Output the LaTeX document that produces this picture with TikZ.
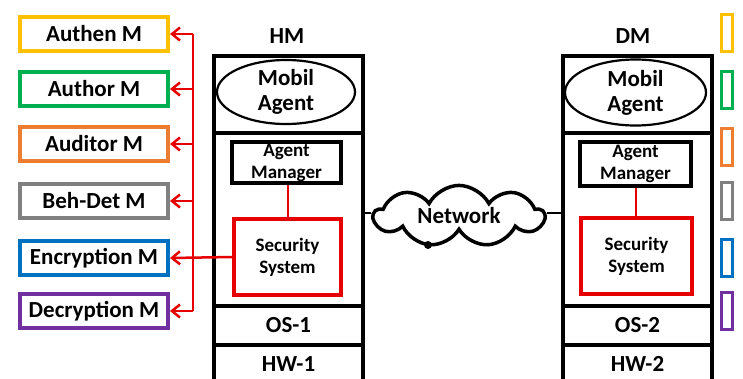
\documentclass[tikz,border=0pt]{standalone}
\usepackage{fontspec}
\setmainfont{Carlito}
\usetikzlibrary{shapes.geometric,shapes.symbols,arrows.meta}
\definecolor{cyel}{RGB}{255,192,0}
\definecolor{cgrn}{RGB}{0,176,80}
\definecolor{corg}{RGB}{237,125,49}
\definecolor{cgry}{RGB}{128,128,128}
\definecolor{cblu}{RGB}{0,112,192}
\definecolor{cpur}{RGB}{112,48,160}
\definecolor{cred}{RGB}{230,0,0}
\begin{document}
\begin{tikzpicture}[x=1pt,y=-1pt,
  big/.style={font=\bfseries\fontsize{23}{25}\selectfont},
  small/.style={font=\bfseries\fontsize{19}{22}\selectfont},
  modbox/.style={draw, line width=4pt, minimum width=148pt, minimum height=34pt, inner sep=0pt, big},
  tab/.style={draw, line width=3pt, minimum width=11pt, minimum height=37pt, inner sep=0pt},
  layer/.style={draw, line width=4pt, minimum width=149pt, inner sep=0pt, anchor=north west, big},
  agent/.style={draw, ellipse, line width=2.2pt, minimum width=138pt, minimum height=64pt, inner sep=0pt, align=center, big},
  mgr/.style={draw, line width=3.5pt, minimum width=109pt, minimum height=41pt, inner sep=0pt, align=center, small},
  sec/.style={draw=cred, line width=3.5pt, minimum width=107pt, minimum height=76pt, inner sep=0pt, align=center, small},
  redln/.style={draw=cred, line width=2.5pt},
  redarr/.style={redln, -{Straight Barb[length=8pt,width=13pt,line width=2.5pt]}},
  blk/.style={draw, line width=2.5pt}]
\useasboundingbox (0,0) rectangle (743,378);
\fill[white] (0,0) rectangle (743,378);

% left modules
\node[modbox, draw=cyel] (auth) at (94,34) {Authen M};
\node[modbox, draw=cgrn] (autr) at (94,89) {Author M};
\node[modbox, draw=corg] (audt) at (94,144) {Auditor M};
\node[modbox, draw=cgry] (behd) at (94,201) {Beh-Det M};
\node[modbox, draw=cblu] (encr) at (94,258) {Encryption M};
\node[modbox, draw=cpur] (decr) at (94,311) {Decryption M};

% HM column
\node[big] (hmlbl) at (287,36) {HM};
\node[layer, minimum height=77pt] (hmtop) at (212,54) {};
\node[layer, minimum height=173pt] (hmmid) at (212,131) {};
\node[layer, minimum height=39pt] (hmos) at (212,304) {OS-1};
\node[layer, minimum height=38pt] (hmhw) at (212,343) {HW-1};
\node[agent] (hmag) at (286,92) {Mobil\\Agent};
\node[mgr] (hmam) at (286.5,162.5) {Agent\\Manager};
\node[sec] (hmss) at (287.5,257) {Security\\System};
\draw[redln] (hmam.south -| 288,0) -- (hmss.north -| 288,0);

% DM column
\node[big] (dmlbl) at (633,36) {DM};
\node[layer, minimum height=77pt] (dmtop) at (561,54) {};
\node[layer, minimum height=173pt] (dmmid) at (561,131) {};
\node[layer, minimum height=39pt] (dmos) at (561,304) {OS-2};
\node[layer, minimum height=38pt] (dmhw) at (561,343) {HW-2};
\node[agent, minimum width=141pt, minimum height=66pt] (dmag) at (635.5,92.5) {Mobil\\Agent};
\node[mgr, minimum width=111pt, minimum height=44pt] (dmam) at (635.5,164) {Agent\\Manager};
\node[sec, minimum width=111pt] (dmss) at (636.5,256) {Security\\System};
\draw[redln] (dmam.south -| 636,0) -- (dmss.north -| 636,0);

% network
\node[cloud, draw, line width=3.5pt, cloud puffs=9, cloud puff arc=125, aspect=3,
      minimum width=170pt, minimum height=58pt, inner sep=0pt, big] (net) at (459,216) {Network};
\fill (428,245) circle (4pt);
\coordinate (hmport) at (362,213);
\coordinate (dmport) at (561,213);
\draw[blk] (hmport) -- (net.west |- hmport);
\draw[blk] (net.east |- dmport) -- (dmport);

% red bus
\coordinate (bus) at (193,0);
\draw[redln] (bus |- auth.east) -- (bus |- decr.east);
\draw[redarr] (bus |- auth.east) -- (auth.east);
\draw[redarr] (bus |- autr.east) -- (autr.east);
\draw[redarr] (bus |- audt.east) -- (audt.east);
\draw[redarr] (bus |- behd.east) -- (behd.east);
\draw[redarr] (bus |- decr.east) -- (decr.east);
\draw[redarr] (hmss.west) -- (encr.east);

% right tabs
\node[tab, draw=cyel] (t1) at (727,33) {};
\node[tab, draw=cgrn] (t2) at (727,90) {};
\node[tab, draw=corg] (t3) at (727,146.5) {};
\node[tab, draw=cgry] (t4) at (727,201) {};
\node[tab, draw=cblu] (t5) at (727,258) {};
\node[tab, draw=cpur] (t6) at (727,311) {};
\end{tikzpicture}
\end{document}
